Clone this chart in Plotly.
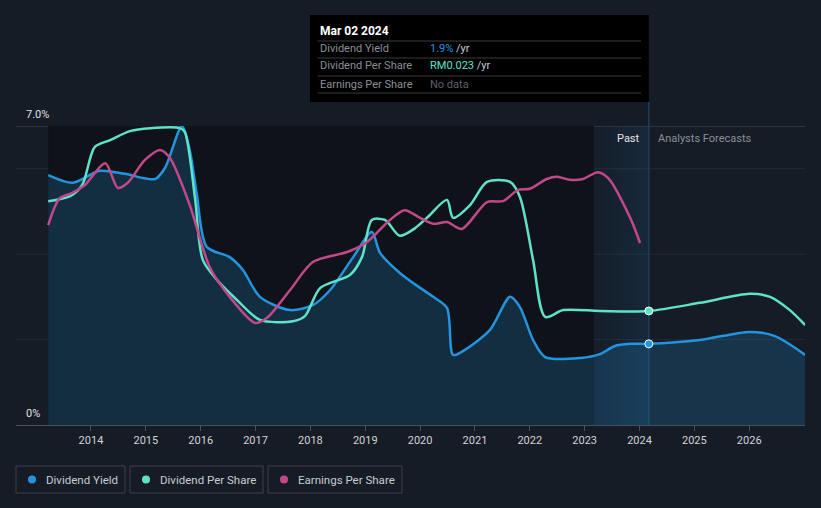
import plotly.graph_objects as go

# ---- data (years as decimal, values in chart % units) ----
yield_x = [2013.22, 2013.67, 2014.16, 2014.62, 2015.17, 2015.35, 2015.66, 2015.80, 2015.93, 2016.11,
           2016.53, 2016.77, 2017.08, 2017.63, 2018.05, 2018.36, 2018.78, 2019.12, 2019.27, 2019.63,
           2020.00, 2020.24, 2020.49, 2020.60, 2020.78, 2021.27, 2021.64, 2021.82, 2022.06, 2022.28,
           2022.92, 2023.28, 2023.55, 2023.83, 2024.17, 2025.10, 2026.01, 2026.47, 2027.02]
yield_y = [5.85, 5.67, 5.95, 5.88, 5.76, 6.02, 7.00, 6.44, 5.39, 4.17,
           3.93, 3.63, 3.00, 2.69, 2.81, 3.16, 3.93, 4.52, 4.03, 3.56,
           3.21, 3.00, 2.74, 1.64, 1.73, 2.22, 3.00, 2.76, 1.99, 1.59,
           1.57, 1.66, 1.85, 1.90, 1.90, 1.99, 2.18, 2.08, 1.64]

dps_x = [2013.22, 2013.62, 2013.84, 2014.07, 2014.35, 2014.71, 2015.08, 2015.62, 2015.71, 2015.90,
         2016.04, 2016.35, 2016.66, 2017.08, 2017.68, 2017.90, 2018.18, 2018.72, 2018.94, 2019.12,
         2019.36, 2019.63, 2019.91, 2020.14, 2020.49, 2020.60, 2020.91, 2021.22, 2021.64, 2021.82,
         2022.06, 2022.28, 2022.61, 2023.28, 2024.17, 2025.10, 2026.01, 2026.38, 2026.74, 2027.02]
dps_y = [5.24, 5.36, 5.62, 6.51, 6.67, 6.88, 6.95, 6.95, 6.86, 5.27,
         3.86, 3.32, 2.93, 2.46, 2.43, 2.55, 3.21, 3.51, 3.93, 4.80,
         4.80, 4.43, 4.61, 4.87, 5.27, 4.85, 5.15, 5.69, 5.69, 5.34,
         3.86, 2.53, 2.69, 2.67, 2.67, 2.86, 3.07, 3.00, 2.69, 2.34]

eps_x = [2013.22, 2013.43, 2013.65, 2013.89, 2014.26, 2014.49, 2014.67, 2014.98, 2015.26, 2015.44,
         2015.80, 2016.17, 2016.53, 2016.99, 2017.21, 2017.63, 2018.05, 2018.67, 2019.03, 2019.45,
         2019.72, 2020.00, 2020.24, 2020.49, 2020.76, 2021.22, 2021.51, 2021.78, 2022.00, 2022.31,
         2022.50, 2022.73, 2022.97, 2023.24, 2023.43, 2023.83, 2024.01]
eps_y = [4.68, 5.31, 5.43, 5.62, 6.13, 5.55, 5.67, 6.20, 6.44, 6.25,
         5.15, 3.68, 3.00, 2.39, 2.51, 3.16, 3.82, 4.05, 4.28, 4.80,
         5.03, 4.85, 4.71, 4.75, 4.59, 5.22, 5.24, 5.50, 5.53, 5.76,
         5.81, 5.74, 5.76, 5.92, 5.78, 4.85, 4.26]

tick_years = list(range(2014, 2027))
tick_labels = [str(y) for y in tick_years]

now_x = 2024.17
past_start = 2023.17
now_yield = 1.90
now_dps = 2.67

BLUE = "#2394df"
TEAL = "#5fe3c8"
MAG = "#c2488a"
BG = "#161c26"

fig = go.Figure()

fig.add_trace(go.Scatter(x=yield_x, y=yield_y, mode="lines", line=dict(color=BLUE, width=2.5, shape="spline", smoothing=0.8),
                         fill="tozeroy", fillcolor="rgba(35,148,223,0.20)", hoverinfo="skip", showlegend=False))
fig.add_trace(go.Scatter(x=dps_x, y=dps_y, mode="lines", line=dict(color=TEAL, width=2.5, shape="spline", smoothing=0.8),
                         hoverinfo="skip", showlegend=False))
fig.add_trace(go.Scatter(x=eps_x, y=eps_y, mode="lines", line=dict(color=MAG, width=2.5, shape="spline", smoothing=0.8),
                         hoverinfo="skip", showlegend=False))
fig.add_trace(go.Scatter(x=[now_x, now_x], y=[now_yield, now_dps], mode="markers",
                         marker=dict(size=8, color=[BLUE, TEAL], line=dict(color="white", width=1)),
                         hoverinfo="skip", showlegend=False))

shapes = []
# dark past region
shapes.append(dict(type="rect", xref="x", yref="y", x0=yield_x[0], x1=past_start, y0=0, y1=7,
                   fillcolor="#0f1319", line_width=0, layer="below"))
# gradient band
n = 14
for i in range(n):
    a = 0.05 + 0.20 * i / (n - 1)
    shapes.append(dict(type="rect", xref="x", yref="y",
                       x0=past_start + (now_x - past_start) * i / n,
                       x1=past_start + (now_x - past_start) * (i + 1) / n,
                       y0=0, y1=7, fillcolor=f"rgba(25,80,125,{a:.3f})", line_width=0, layer="below"))
# gridlines
for g in [2, 4, 6]:
    shapes.append(dict(type="line", xref="paper", yref="y", x0=0, x1=1, y0=g, y1=g,
                       line=dict(color="#262c35", width=1), layer="below"))
shapes.append(dict(type="line", xref="paper", yref="y", x0=0, x1=1, y0=7, y1=7,
                   line=dict(color="#474c54", width=1), layer="below"))
# vertical now line
shapes.append(dict(type="line", xref="x", yref="paper", x0=now_x, x1=now_x, y0=0, y1=1.08,
                   line=dict(color="#1d3d58", width=1.5), layer="below"))
# tooltip box
tx0 = 2014 + (310 - 91) / 54.85
shapes.append(dict(type="rect", xref="x", yref="paper", x0=tx0, x1=now_x, y0=1.080, y1=1.371,
                   fillcolor="#000000", line_width=0, layer="above"))
for sy in [41, 58, 76, 93]:
    yy = (425 - sy) / 299
    shapes.append(dict(type="line", xref="x", yref="paper", x0=tx0 + 0.14, x1=now_x - 0.14, y0=yy, y1=yy,
                       line=dict(color="#3a3a3a", width=1), layer="above"))

def py(p):
    return (425 - p) / 299

def px(p):
    return (p - 16) / 789

lx = tx0 + 0.14
vx = 2014 + (428 - 91) / 54.85
ann = [
    dict(x=lx, y=py(31), xref="x", yref="paper", text="<b>Mar 02 2024</b>", showarrow=False,
         xanchor="left", yanchor="middle", font=dict(color="#ffffff", size=12)),
    dict(x=lx, y=py(49), xref="x", yref="paper", text="Dividend Yield", showarrow=False,
         xanchor="left", yanchor="middle", font=dict(color="#8a8f96", size=11)),
    dict(x=lx, y=py(66), xref="x", yref="paper", text="Dividend Per Share", showarrow=False,
         xanchor="left", yanchor="middle", font=dict(color="#8a8f96", size=11)),
    dict(x=lx, y=py(84), xref="x", yref="paper", text="Earnings Per Share", showarrow=False,
         xanchor="left", yanchor="middle", font=dict(color="#8a8f96", size=11)),
    dict(x=vx, y=py(49), xref="x", yref="paper",
         text=f"<span style='color:{BLUE}'>1.9%</span><span style='color:#c8ccd1'> /yr</span>", showarrow=False,
         xanchor="left", yanchor="middle", font=dict(size=11)),
    dict(x=vx, y=py(66), xref="x", yref="paper",
         text=f"<span style='color:{TEAL}'>RM0.023</span><span style='color:#c8ccd1'> /yr</span>", showarrow=False,
         xanchor="left", yanchor="middle", font=dict(size=11)),
    dict(x=vx, y=py(84), xref="x", yref="paper", text="No data", showarrow=False,
         xanchor="left", yanchor="middle", font=dict(color="#5c6068", size=11)),
    dict(x=0.01, y=py(114), xref="paper", yref="paper", text="7.0%", showarrow=False,
         xanchor="left", yanchor="middle", font=dict(color="#e0e0e0", size=11)),
    dict(x=0.01, y=py(413), xref="paper", yref="paper", text="0%", showarrow=False,
         xanchor="left", yanchor="middle", font=dict(color="#e0e0e0", size=11)),
    dict(x=2014 + (642 - 91) / 54.85, y=py(138), xref="x", yref="paper", text="Past", showarrow=False,
         xanchor="right", yanchor="middle", font=dict(color="#e6e6e6", size=11)),
    dict(x=2014 + (656 - 91) / 54.85, y=py(138), xref="x", yref="paper", text="Analysts Forecasts", showarrow=False,
         xanchor="left", yanchor="middle", font=dict(color="#8a8f96", size=11)),
]

legend_items = [("Dividend Yield", BLUE, 16, 125), ("Dividend Per Share", TEAL, 130, 263), ("Earnings Per Share", MAG, 268, 402)]
for name, col, l, r in legend_items:
    shapes.append(dict(type="rect", xref="paper", yref="paper", x0=px(l), x1=px(r),
                       y0=py(493), y1=py(466), line=dict(color="#3a3f47", width=1), fillcolor="rgba(0,0,0,0)"))
    shapes.append(dict(type="circle", xref="paper", yref="paper", x0=px(l + 12), x1=px(l + 20),
                       y0=py(483.5), y1=py(475.5), line=dict(color=col, width=0), fillcolor=col))
    ann.append(dict(x=px(l + 28), y=py(479.5), xref="paper", yref="paper",
                    text=name, showarrow=False,
                    xanchor="left", yanchor="middle", font=dict(color="#c8ccd1", size=11.5)))

fig.update_layout(
    width=821, height=508,
    margin=dict(l=16, r=16, t=126, b=83),
    paper_bgcolor=BG, plot_bgcolor=BG,
    font=dict(family="Roboto, sans-serif", color="#c8ccd1"),
    shapes=shapes, annotations=ann, showlegend=False,
    xaxis=dict(range=[2012.633, 2027.017], tickmode="array", tickvals=tick_years, ticktext=tick_labels,
               showgrid=False, zeroline=False, showline=True, linecolor="#4a5058", linewidth=1,
               ticks="outside", ticklen=5, tickcolor="#4a5058", tickfont=dict(size=11, color="#d0d3d8"),
               fixedrange=True),
    yaxis=dict(range=[0, 7], showgrid=False, zeroline=False, showticklabels=False, fixedrange=True),
)

fig.write_html("out.html")
